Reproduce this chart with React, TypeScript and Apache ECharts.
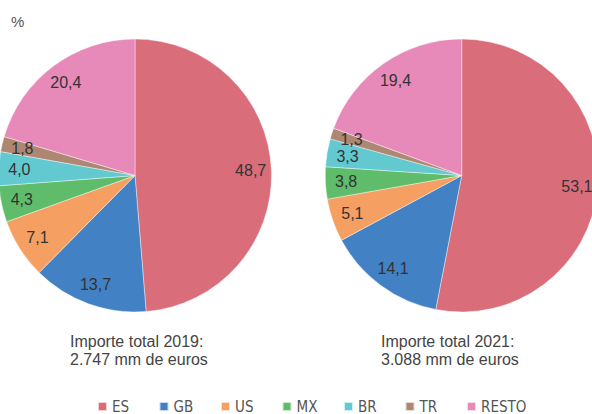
import React, { useEffect, useRef } from "react";
import * as echarts from "echarts";

const categories = ["ES", "GB", "US", "MX", "BR", "TR", "RESTO"];
const values2019 = [48.7, 13.7, 7.1, 4.3, 4.0, 1.8, 20.4];
const values2021 = [53.1, 14.1, 5.1, 3.8, 3.3, 1.3, 19.4];
const colors = ["#d96d7a", "#4181c4", "#f69f63", "#5fbc6a", "#62c9d1", "#ae8772", "#e78ab9"];
const caption2019 = "Importe total 2019:\n2.747 mm de euros";
const caption2021 = "Importe total 2021:\n3.088 mm de euros";
const unitLabel = "%";

const fmt = (v: number) => v.toFixed(1).replace(".", ",");

export default function App() {
  const ref = useRef<HTMLDivElement>(null);
  useEffect(() => {
    if (!ref.current) return;
    const chart = echarts.init(ref.current, null, { renderer: "svg" });
    const mk = (vals: number[]) =>
      categories.map((c, i) => ({ name: c, value: vals[i], itemStyle: { color: colors[i] } }));
    const mainPie = (vals: number[], cx: number) => ({
      type: "pie",
      center: [cx, 175.5],
      radius: [0, 136.5],
      startAngle: 90,
      clockwise: true,
      label: { show: false },
      labelLine: { show: false },
      itemStyle: { borderColor: "rgba(255,255,255,0.7)", borderWidth: 0.6 },
      emphasis: { disabled: true },
      data: mk(vals),
    });
    const labelPie = (vals: number[], cx: number) => ({
      type: "pie",
      center: [cx, 175.5],
      radius: [89, 136.5],
      startAngle: 90,
      clockwise: true,
      silent: true,
      legendHoverLink: false,
      z: 5,
      itemStyle: { color: "transparent", borderWidth: 0 },
      label: {
        show: true,
        position: "inside",
        color: "#333",
        fontSize: 16,
        fontFamily: "Liberation Sans, Arial, sans-serif",
        formatter: (p: any) => fmt(p.value),
      },
      labelLine: { show: false },
      emphasis: { disabled: true },
      data: categories.map((c, i) => ({ name: c, value: vals[i] })),
    });
    const titleStyle = {
      fontSize: 16,
      fontWeight: "normal",
      color: "#444",
      lineHeight: 18,
      fontFamily: "Liberation Sans, Arial, sans-serif",
    };
    const legendFont = "Liberation Sans Narrow, DejaVu Sans Condensed, Arial, sans-serif";
    chart.setOption({
      animation: false,
      title: [
        { text: unitLabel, left: 11, top: 12, padding: 0, textStyle: { ...titleStyle, fontSize: 15, color: "#555" } },
        { text: caption2019, left: 70, top: 332, padding: 0, textStyle: titleStyle },
        { text: caption2021, left: 381, top: 332, padding: 0, textStyle: titleStyle },
      ],
      legend: categories.map((c, i) => ({
        data: [c],
        left: 97 + i * 61.5,
        top: 399,
        padding: 0,
        itemWidth: 9,
        itemHeight: 9,
        itemGap: 0,
        icon: "rect",
        selectedMode: false,
        textStyle: { color: "#555", fontSize: 15, fontFamily: legendFont },
      })),
      series: [
        mainPie(values2019, 135),
        mainPie(values2021, 461.7),
        labelPie(values2019, 135),
        labelPie(values2021, 461.7),
      ],
    });
    return () => chart.dispose();
  }, []);
  return (
    <div
      ref={ref}
      style={{ position: "absolute", left: 0, top: 0, width: 592, height: 414, background: "#fff" }}
    />
  );
}
